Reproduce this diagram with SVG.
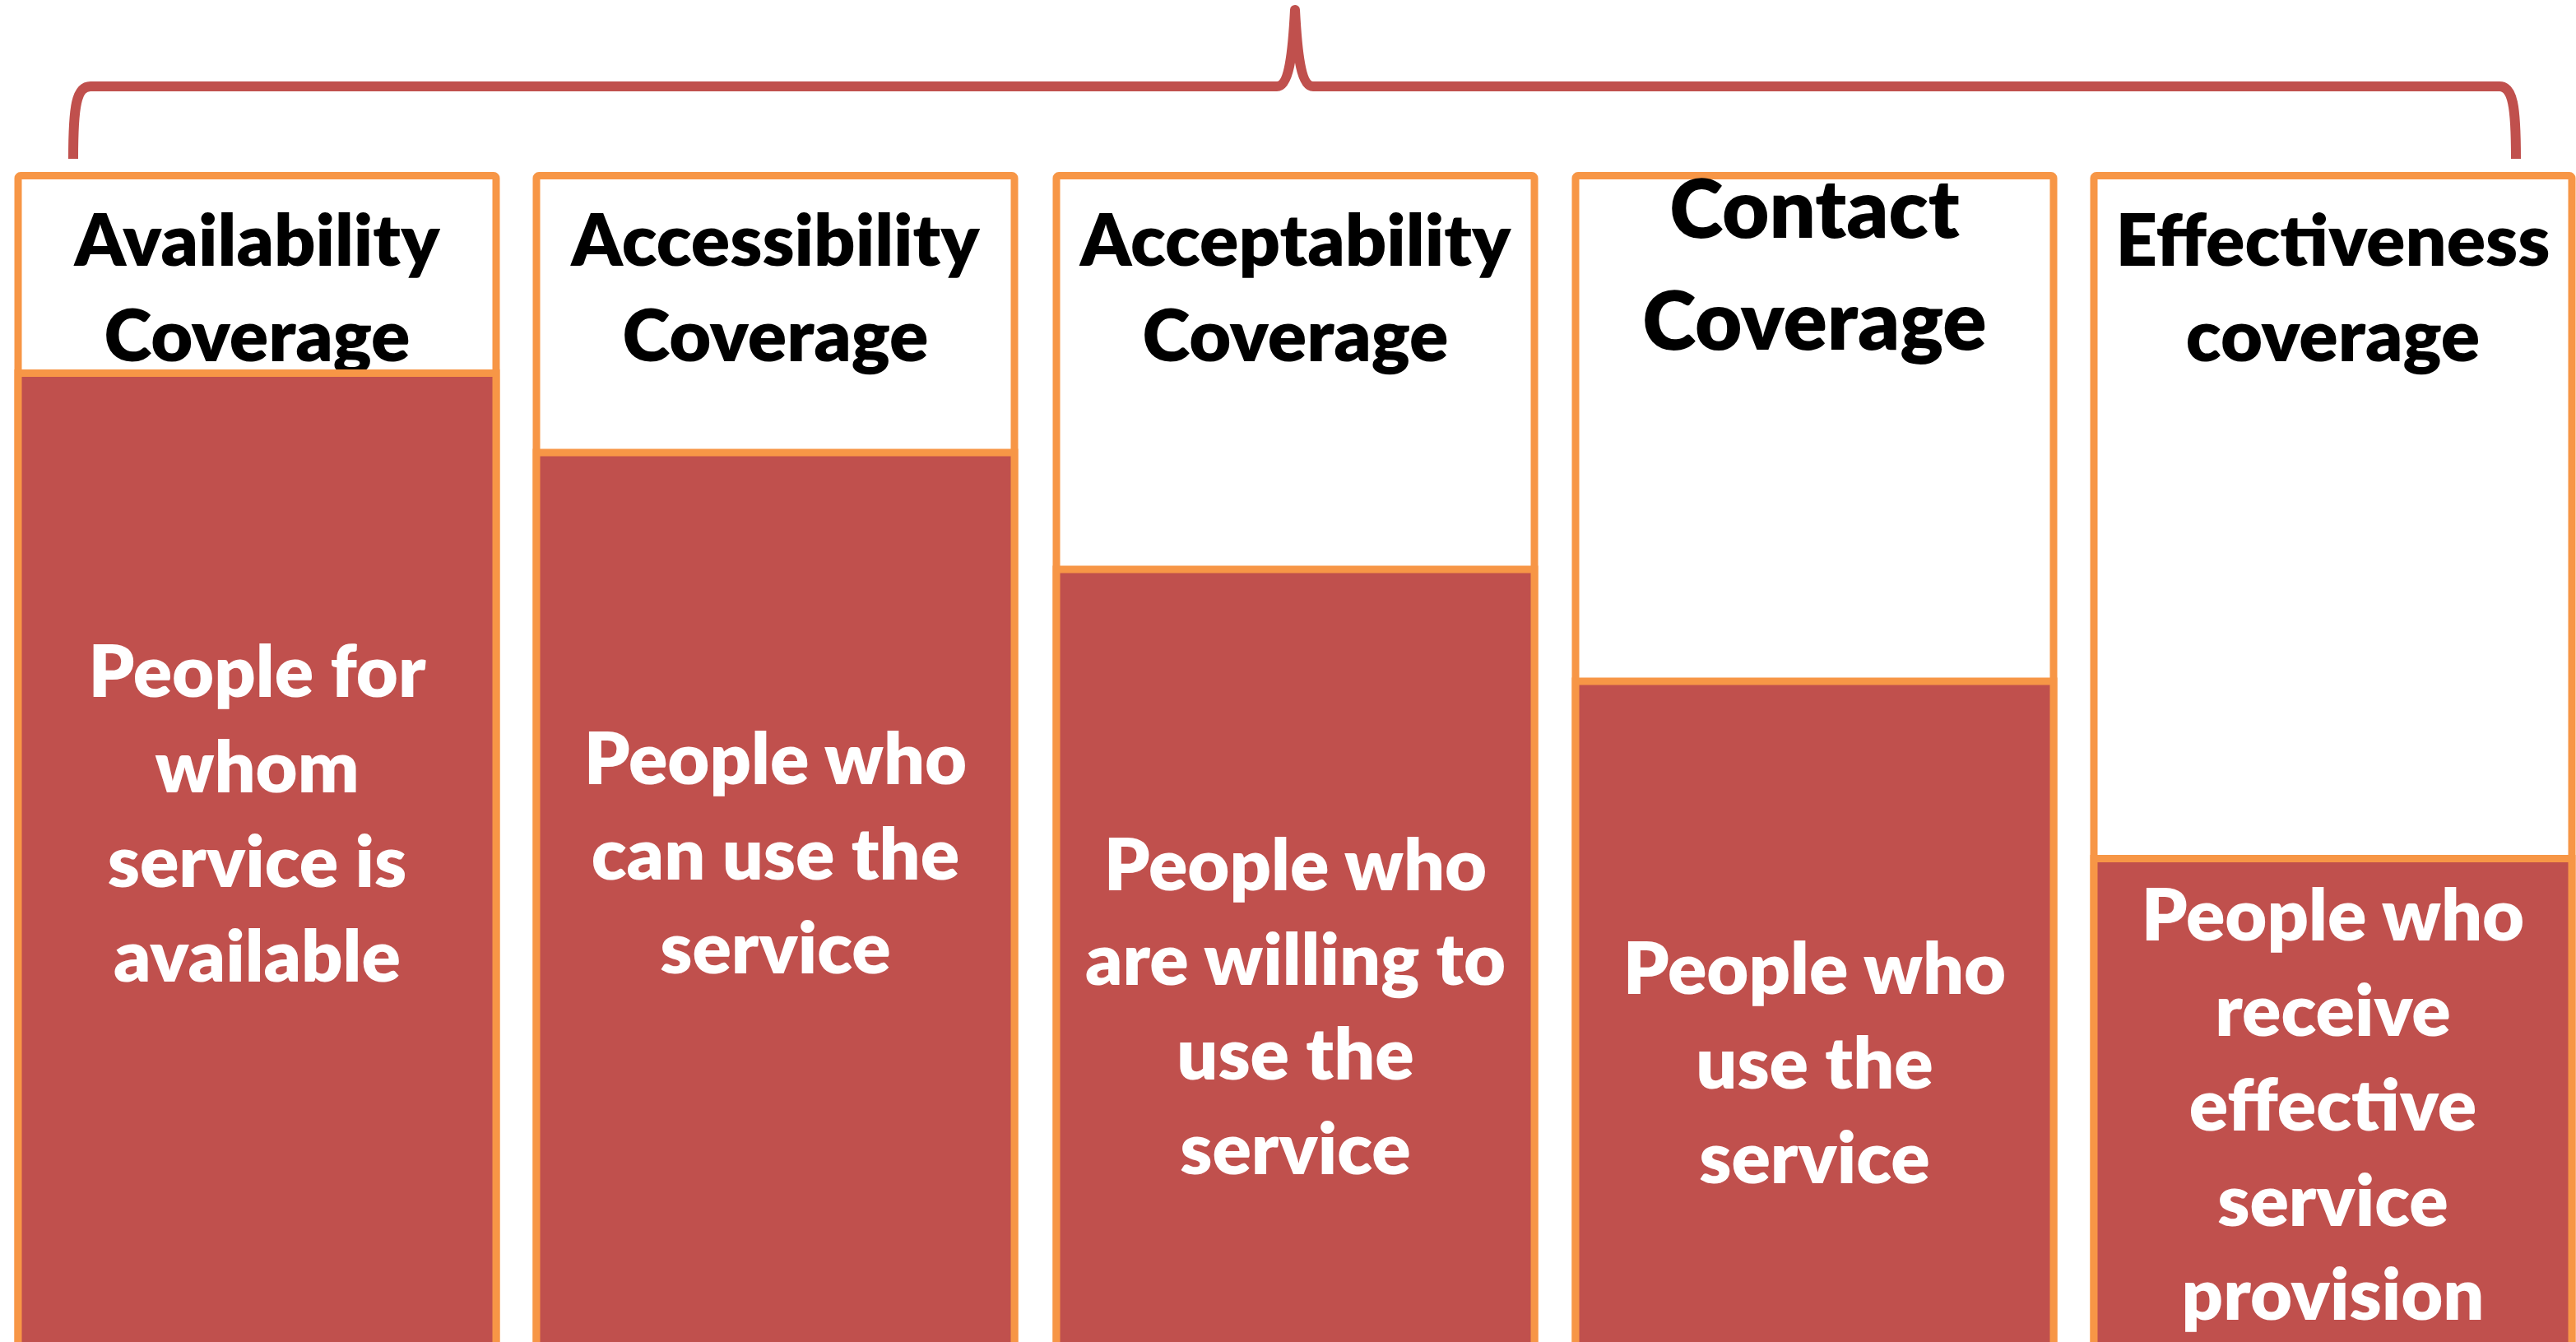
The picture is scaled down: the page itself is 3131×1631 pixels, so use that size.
<svg xmlns="http://www.w3.org/2000/svg" width="3131" height="1631" viewBox="0 0 3131 1631">
  <style>
    .top { fill: #FFFFFF; stroke: #F79646; stroke-width: 9; }
    .bar { fill: #C0504D; stroke: #F79646; stroke-width: 9; }
    .head { font-family: Lato, "Open Sans", sans-serif; font-weight: 800; font-size: 88px; fill: #000000; text-anchor: middle; }
    .head-lg { font-size: 99px; }
    .body { font-family: Lato, "Open Sans", sans-serif; font-weight: 800; font-size: 88px; fill: #FFFFFF; text-anchor: middle; }
    .brace { fill: none; stroke: #C0504D; stroke-width: 12; stroke-linejoin: round; stroke-linecap: butt; }
  </style>
  <rect width="3131" height="1631" fill="#FFFFFF"/>

  <!-- brace spanning all five columns -->
  <g id="connectors">
    <path class="brace" d="M89,193 C89,128 93,105 110,105 L1552,105 C1566,105 1571,70 1574,12 C1577,70 1582,105 1596,105 L3038,105 C3054,105 3058,128 3058,193"/>
  </g>

  <!-- column 1 -->
  <g id="availability">
    <rect class="top" x="22" y="213.5" width="581" height="1500" rx="3"/>
    <text class="head" x="312.5" y="323">Availability</text>
    <text class="head" x="312.5" y="439">Coverage</text>
    <rect class="bar" x="22" y="453.5" width="581" height="1300"/>
    <text class="body" x="312.5" y="847">People for</text>
    <text class="body" x="312.5" y="963">whom</text>
    <text class="body" x="312.5" y="1078">service is</text>
    <text class="body" x="312.5" y="1193">available</text>
  </g>

  <!-- column 2 -->
  <g id="accessibility">
    <rect class="top" x="652" y="213.5" width="581" height="1500" rx="3"/>
    <text class="head" x="942.5" y="323">Accessibility</text>
    <text class="head" x="942.5" y="439">Coverage</text>
    <rect class="bar" x="652" y="550" width="581" height="1200"/>
    <text class="body" x="942.5" y="953">People who</text>
    <text class="body" x="942.5" y="1069">can use the</text>
    <text class="body" x="942.5" y="1183">service</text>
  </g>

  <!-- column 3 -->
  <g id="acceptability">
    <rect class="top" x="1284" y="213.5" width="581" height="1500" rx="3"/>
    <text class="head" x="1574.5" y="323">Acceptability</text>
    <text class="head" x="1574.5" y="439">Coverage</text>
    <rect class="bar" x="1284" y="692" width="581" height="1100"/>
    <text class="body" x="1574.5" y="1082">People who</text>
    <text class="body" x="1574.5" y="1197">are willing to</text>
    <text class="body" x="1574.5" y="1312">use the</text>
    <text class="body" x="1574.5" y="1427">service</text>
  </g>

  <!-- column 4 -->
  <g id="contact">
    <rect class="top" x="1915" y="213.5" width="581" height="1500" rx="3"/>
    <text class="head head-lg" x="2205.5" y="289">Contact</text>
    <text class="head head-lg" x="2205.5" y="425">Coverage</text>
    <rect class="bar" x="1915" y="828" width="581" height="900"/>
    <text class="body" x="2205.5" y="1208">People who</text>
    <text class="body" x="2205.5" y="1323">use the</text>
    <text class="body" x="2205.5" y="1438">service</text>
  </g>

  <!-- column 5 -->
  <g id="effectiveness">
    <rect class="top" x="2545" y="213.5" width="581" height="1500" rx="3"/>
    <text class="head" x="2835.5" y="323">Effectiveness</text>
    <text class="head" x="2835.5" y="439">coverage</text>
    <rect class="bar" x="2545" y="1043.5" width="581" height="700"/>
    <text class="body" x="2835.5" y="1143">People who</text>
    <text class="body" x="2835.5" y="1259">receive</text>
    <text class="body" x="2835.5" y="1374">effective</text>
    <text class="body" x="2835.5" y="1490">service</text>
    <text class="body" x="2835.5" y="1604">provision</text>
  </g>
</svg>
